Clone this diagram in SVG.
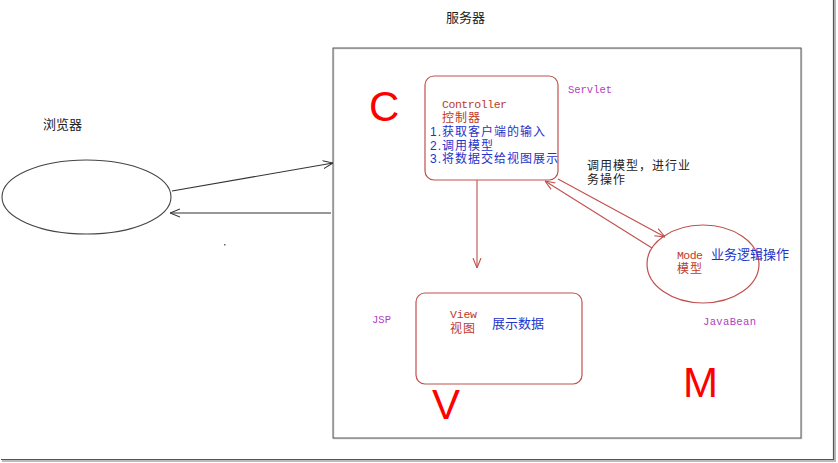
<svg xmlns="http://www.w3.org/2000/svg" width="838" height="463" viewBox="0 0 838 463">
<style>
.cjk{font-family:"Liberation Sans","Noto Sans CJK SC",sans-serif;font-size:13px}
.sm{font-size:12px;letter-spacing:1px}
.mono{font-family:"Liberation Mono","Noto Sans CJK SC",monospace;font-size:11.5px}
.ser{font-family:"Liberation Mono",monospace;font-size:10.5px;fill:#b040c0}
.big{font-family:"Liberation Sans",sans-serif;font-size:42px;fill:#ff0000}
.red{fill:#c0392b}
.blue{fill:#2233cc}
.blk{fill:#222}
.node{fill:none;stroke:#c0504d;stroke-width:1.2}
.conn{fill:none;stroke-width:1.1}
</style>
<defs>
<marker id="ag" viewBox="0 0 10 10" refX="10" refY="5" markerWidth="10" markerHeight="10" markerUnits="userSpaceOnUse" orient="auto"><path d="M0,1 L10,5 L0,9" fill="none" stroke="#333" stroke-width="1.1"/></marker>
<marker id="ar" viewBox="0 0 10 10" refX="10" refY="5" markerWidth="10" markerHeight="10" markerUnits="userSpaceOnUse" orient="auto"><path d="M0,1 L10,5 L0,9" fill="none" stroke="#c0504d" stroke-width="1.1"/></marker>
</defs>
<rect width="838" height="463" fill="#fff"/>
<g id="frame">
<path d="M835,0 V461 H2" fill="none" stroke="#bbb" stroke-width="2"/>
<path d="M833.5,0 V459.5 H1" fill="none" stroke="#555" stroke-width="1.2"/>
</g>
<g id="server">
<rect x="333.8" y="48.8" width="468" height="390" fill="none" stroke="#ccc" stroke-width="1"/>
<rect x="333" y="48" width="468" height="390" fill="none" stroke="#555" stroke-width="1"/>
<text class="cjk blk" x="446" y="22">服务器</text>
</g>
<g id="browser">
<text class="cjk blk" x="43" y="129">浏览器</text>
<ellipse cx="86.5" cy="197" rx="84.5" ry="37" fill="none" stroke="#444" stroke-width="1.1"/>
</g>
<g id="controller">
<rect class="node" x="425" y="76" width="133" height="104" rx="9"/>
<text class="big" x="369" y="121">C</text>
<text class="ser" x="568" y="93" textLength="44">Servlet</text>
<text class="mono red" x="442" y="108" textLength="65">Controller</text>
<text class="cjk sm red" x="442" y="122">控制器</text>
<text class="cjk sm blue" x="430" y="136">1.获取客户端的输入</text>
<text class="cjk sm blue" x="430" y="149.5">2.调用模型</text>
<text class="cjk sm blue" x="430" y="163">3.将数据交给视图展示</text>
</g>
<g id="view">
<rect class="node" x="416" y="293" width="166" height="91" rx="9"/>
<text class="ser" x="372" y="323" textLength="19">JSP</text>
<text class="mono red" x="450" y="318" textLength="27">View</text>
<text class="cjk sm red" x="450" y="333">视图</text>
<text class="cjk blue" x="492" y="328">展示数据</text>
<text class="big" x="432" y="419">V</text>
</g>
<g id="model">
<ellipse class="node" cx="703" cy="264" rx="56" ry="39"/>
<text class="mono red" x="677" y="259" textLength="26">Mode</text>
<text class="cjk sm red" x="677" y="273">模型</text>
<text class="cjk blue" x="711" y="259">业务逻辑操作</text>
<text class="ser" x="703" y="325" textLength="53">JavaBean</text>
<text class="big" x="683" y="397">M</text>
</g>
<g id="connectors">
<line class="conn" x1="172" y1="191" x2="333" y2="163" stroke="#333" marker-end="url(#ag)"/>
<line class="conn" x1="331" y1="213" x2="170" y2="213" stroke="#333" marker-end="url(#ag)"/>
<line class="conn" x1="477" y1="180" x2="477" y2="268" stroke="#c0504d" marker-end="url(#ar)"/>
<line class="conn" x1="558" y1="179" x2="665" y2="237" stroke="#c0504d" marker-end="url(#ar)"/>
<line class="conn" x1="652" y1="248" x2="545" y2="181" stroke="#c0504d" marker-end="url(#ar)"/>
<text class="cjk sm blk" x="587" y="170">调用模型，进行业</text>
<text class="cjk sm blk" x="587" y="184">务操作</text>
</g>
<rect x="224" y="244" width="1.5" height="1.5" fill="#666"/>
</svg>
